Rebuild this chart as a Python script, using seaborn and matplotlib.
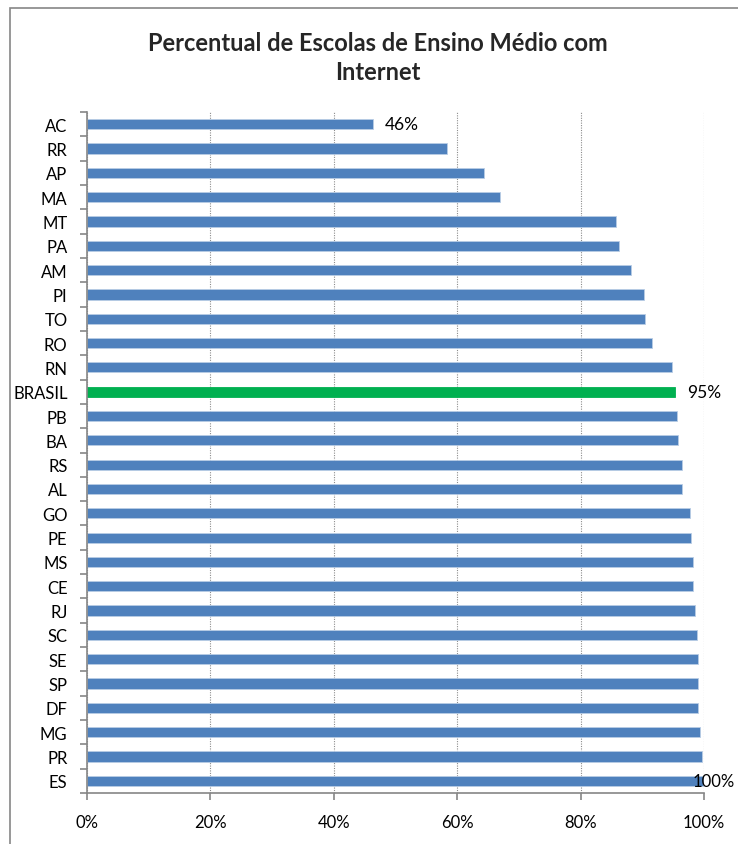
import matplotlib
matplotlib.use("Agg")
import matplotlib.pyplot as plt
import seaborn as sns
import pandas as pd
from matplotlib.patches import Rectangle
from matplotlib.ticker import FixedLocator, PercentFormatter

states = ["AC", "RR", "AP", "MA", "MT", "PA", "AM", "PI", "TO", "RO", "RN",
          "BRASIL", "PB", "BA", "RS", "AL", "GO", "PE", "MS", "CE", "RJ",
          "SC", "SE", "SP", "DF", "MG", "PR", "ES"]
values = [46.3, 58.4, 64.3, 66.9, 85.8, 86.3, 88.1, 90.3, 90.5, 91.5, 94.8,
          95.3, 95.6, 95.8, 96.5, 96.5, 97.7, 97.9, 98.2, 98.2, 98.6,
          98.9, 99.1, 99.1, 99.1, 99.3, 99.6, 99.9]
groups = ["UF"] * 11 + ["Brasil"] + ["UF"] * 16
labelled = {"AC": "46%", "BRASIL": "95%", "ES": "100%"}
x_ticks = [0, 20, 40, 60, 80, 100]
title = "Percentual de Escolas de Ensino Médio com\nInternet"

df = pd.DataFrame({"estado": states, "valor": values, "grupo": groups})

sns.set_theme(style="white")
plt.rcParams["font.family"] = ["Lato", "DejaVu Sans"]

fig = plt.figure(figsize=(7.38, 8.45), dpi=100)
ax = fig.add_axes([87 / 738, 1 - 794 / 845, (704 - 87) / 738, (794 - 113) / 845])

sns.barplot(data=df, x="valor", y="estado", hue="grupo", orient="h",
            palette={"UF": "#4F81BD", "Brasil": "#00B050"}, dodge=False,
            width=0.42, legend=False, ax=ax, saturation=1,
            edgecolor="#B9CDE5", linewidth=0.6)
for p in ax.patches:
    if p.get_facecolor()[1] > 0.6:
        p.set_edgecolor("#00B050")

ax.set_xlim(0, 100)
ax.set_xlabel("")
ax.set_ylabel("")
ax.xaxis.set_major_locator(FixedLocator(x_ticks))
ax.xaxis.set_major_formatter(PercentFormatter(decimals=0))
ax.grid(axis="x", which="major", color="#8C8C8C", linestyle=(0, (1, 1.2)), linewidth=0.8)
ax.grid(axis="y", visible=False)
ax.set_axisbelow(True)

for s in ["top", "right"]:
    ax.spines[s].set_visible(False)
for s in ["left", "bottom"]:
    ax.spines[s].set_color("#868686")
    ax.spines[s].set_linewidth(1.2)

ax.tick_params(axis="x", which="major", direction="out", length=5, width=1.2,
               color="#868686", pad=10, labelsize=12, labelcolor="black", bottom=True)
ax.tick_params(axis="y", which="major", length=0, pad=14, labelsize=12, labelcolor="black")
n = len(states)
ax.yaxis.set_minor_locator(FixedLocator([i - 0.5 for i in range(n + 1)]))
ax.tick_params(axis="y", which="minor", direction="out", length=5, width=1.2,
               color="#868686", left=True)

for i, (st, v) in enumerate(zip(states, values)):
    if st in labelled:
        big = v >= 99.5
        ax.annotate(labelled[st], xy=(v, i), xytext=(-11 if big else 12, 0),
                    textcoords="offset pixels", va="center", ha="left",
                    fontsize=12 if big else 12.5, color="black",
                    annotation_clip=False)

fig.text(378 / 738, 1 - 58 / 845, title, ha="center", va="center",
         fontsize=17, fontweight="bold", linespacing=1.3)

fig.patches.append(Rectangle((10 / 738, -0.1), 1.2, 1 - 9 / 845 + 0.1,
                             transform=fig.transFigure, fill=False,
                             edgecolor="#868686", linewidth=1.2, zorder=0))

fig.savefig("out.png", dpi=100)
